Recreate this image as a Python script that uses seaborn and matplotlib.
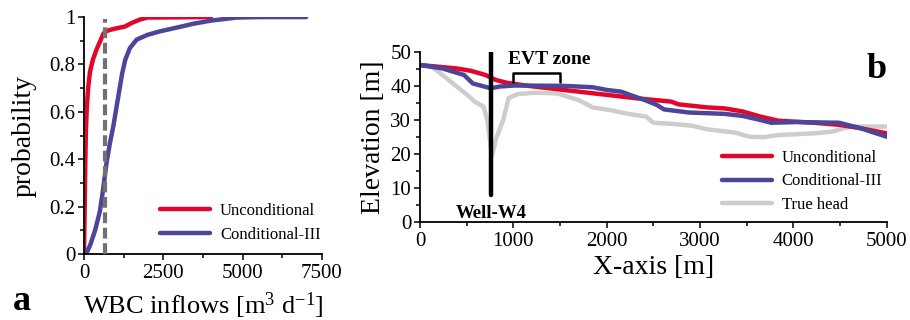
import numpy as np
import pandas as pd
import seaborn as sns
import matplotlib
matplotlib.use("Agg")
import matplotlib.pyplot as plt
from matplotlib.ticker import MultipleLocator, FixedLocator

# ---------------- data ----------------
# Panel a: cumulative probability of WBC inflows
uncond_x = [0, 20, 40, 60, 90, 130, 190, 280, 400, 500, 610, 700, 820, 1000,
            1290, 1500, 1770, 2000, 4000]
uncond_p = [0, 0.18, 0.38, 0.52, 0.62, 0.70, 0.77, 0.82, 0.865, 0.895, 0.93,
            0.94, 0.946, 0.952, 0.96, 0.975, 0.99, 0.998, 1.0]
cond_x = [0, 100, 200, 350, 500, 600, 715, 820, 925, 1000, 1100, 1200, 1300,
          1450, 1660, 2000, 2400, 3000, 3450, 4000, 4800, 5500, 7000]
cond_p = [0, 0.01, 0.04, 0.10, 0.18, 0.27, 0.39, 0.47, 0.54, 0.60, 0.68, 0.76,
          0.82, 0.87, 0.905, 0.925, 0.94, 0.958, 0.972, 0.985, 0.998, 1.0, 1.0]
obs_inflow = 660          # dashed reference line
obs_p_range = [0, 0.99]

# Panel b: heads along the X-axis
b_uncond_x = [0, 394, 547, 700, 815, 930, 1160, 1543, 1926, 2308, 2691, 2768,
              3074, 3265, 3457, 3648, 3839, 4222, 4490, 4720, 5000]
b_uncond_e = [46.1, 45.1, 44.4, 43.2, 41.7, 40.9, 40.0, 38.8, 37.6, 36.4, 35.4,
              34.6, 33.7, 33.4, 32.5, 31.0, 29.8, 29.2, 28.6, 27.6, 26.1]
b_cond_x = [0, 241, 471, 567, 662, 758, 854, 1007, 1543, 1849, 2002, 2155, 2308,
            2423, 2538, 2615, 2882, 3265, 3457, 3648, 3763, 4031, 4490, 4720, 5000]
b_cond_e = [46.1, 45.1, 43.2, 40.7, 40.0, 39.3, 39.8, 40.1, 40.0, 39.6, 38.8,
            38.3, 36.8, 35.7, 34.4, 33.1, 32.2, 31.8, 31.2, 30.0, 29.2, 29.4,
            29.2, 27.6, 25.1]
b_true_x = [0, 126, 241, 394, 509, 586, 681, 720, 750, 770, 790, 815, 892, 949,
            1045, 1236, 1466, 1696, 1849, 2040, 2232, 2423, 2500, 2691, 2921,
            3074, 3380, 3533, 3686, 3839, 4222, 4414, 4605, 5000]
b_true_e = [46.1, 45.6, 43.2, 39.8, 37.3, 35.4, 33.9, 30.0, 24.2, 19.5, 21.5,
            24.5, 30.0, 36.4, 37.6, 38.0, 37.8, 35.9, 33.7, 32.9, 31.8, 31.0,
            29.2, 28.9, 28.3, 27.3, 26.3, 25.1, 25.0, 25.6, 26.1, 26.6, 28.1, 28.1]
well_x = 760
well_e = [8, 50]
evt_zone = [1000, 1500]
evt_e = [41, 43.7]

series_labels = ["Unconditional", "Conditional-III", "True head"]
a_xticks = [0, 2500, 5000, 7500]
a_yticks = [0, 0.2, 0.4, 0.6, 0.8, 1.0]
a_yticklabels = ["0", "0.2", "0.4", "0.6", "0.8", "1"]
b_xticks = [0, 1000, 2000, 3000, 4000, 5000]
b_yticks = [0, 10, 20, 30, 40, 50]

# ---------------- style ----------------
sns.set_style("ticks")
plt.rcParams["font.family"] = ["Liberation Serif", "DejaVu Serif"]
plt.rcParams["mathtext.fontset"] = "custom"
plt.rcParams["mathtext.rm"] = "Liberation Serif"
plt.rcParams["mathtext.it"] = "Liberation Serif:italic"
plt.rcParams["mathtext.bf"] = "Liberation Serif:bold"
for k in ["text.color", "axes.labelcolor", "xtick.color", "ytick.color",
          "axes.edgecolor"]:
    plt.rcParams[k] = "black"

RED = "#E2062C"
BLUE = "#4B4699"
LGRAY = "#CDCDCD"
DGRAY = "#717171"
LW = 3.2

fig = plt.figure(figsize=(9.1, 3.2), dpi=100)
axa = fig.add_axes([0.0923, 0.206, 0.2615, 0.7406])
axb = fig.add_axes([0.4615, 0.3047, 0.5129, 0.5337])

def style_axis(ax):
    for s in ["top", "right"]:
        ax.spines[s].set_visible(False)
    for s in ["left", "bottom"]:
        ax.spines[s].set_linewidth(1.3)
        ax.spines[s].set_color("black")
    ax.tick_params(which="major", direction="out", length=4.3, width=1.1,
                   labelsize=15, colors="black")
    ax.tick_params(which="minor", direction="out", length=2.9, width=1.1,
                   colors="black")
    ax.tick_params(axis="y", which="major", pad=2)
    ax.tick_params(axis="x", which="major", pad=2.5)

# ---------------- panel a ----------------
dfa_u = pd.DataFrame({"x": uncond_x, "p": uncond_p})
dfa_c = pd.DataFrame({"x": cond_x, "p": cond_p})
sns.lineplot(data=dfa_u, x="x", y="p", ax=axa, color=RED, lw=LW, sort=False,
             estimator=None, label=series_labels[0], solid_capstyle="round")
sns.lineplot(data=dfa_c, x="x", y="p", ax=axa, color=BLUE, lw=LW, sort=False,
             estimator=None, label=series_labels[1], solid_capstyle="round")
axa.plot([obs_inflow, obs_inflow], obs_p_range, color=DGRAY, lw=3.0,
         dashes=(2.6, 1.1), zorder=5)
axa.set_xlim(0, 7500)
axa.set_ylim(0, 1)
axa.xaxis.set_major_locator(FixedLocator(a_xticks))
axa.xaxis.set_minor_locator(MultipleLocator(1250))
axa.set_yticks(a_yticks)
axa.set_yticklabels(a_yticklabels)
axa.yaxis.set_minor_locator(MultipleLocator(0.1))
style_axis(axa)
axa.set_xlabel("WBC inflows [m$^{3}$ d$^{-1}$]", fontsize=19)
axa.set_ylabel("probability", fontsize=20)
axa.xaxis.set_label_coords(0.5, -0.155)
axa.yaxis.set_label_coords(-0.20, 0.5)
axa.legend(loc="center left", bbox_to_anchor=(0.319, 0.131), frameon=False,
           fontsize=12, handlelength=3.0, handletextpad=0.6, labelspacing=0.45,
           borderpad=0, borderaxespad=0)
fig.text(0.0143, 0.031, "a", fontsize=26, fontweight="bold", ha="left",
         va="baseline")

# ---------------- panel b ----------------
dfb_t = pd.DataFrame({"x": b_true_x, "e": b_true_e})
dfb_u = pd.DataFrame({"x": b_uncond_x, "e": b_uncond_e})
dfb_c = pd.DataFrame({"x": b_cond_x, "e": b_cond_e})
sns.lineplot(data=dfb_t, x="x", y="e", ax=axb, color=LGRAY, lw=LW, sort=False,
             estimator=None, label=series_labels[2], solid_capstyle="round")
sns.lineplot(data=dfb_u, x="x", y="e", ax=axb, color=RED, lw=LW, sort=False,
             estimator=None, label=series_labels[0], solid_capstyle="round")
sns.lineplot(data=dfb_c, x="x", y="e", ax=axb, color=BLUE, lw=LW, sort=False,
             estimator=None, label=series_labels[1], solid_capstyle="round")
axb.plot([well_x, well_x], well_e, color="black", lw=3.2,
         solid_capstyle="round", zorder=6)
axb.plot([evt_zone[0], evt_zone[0], evt_zone[1], evt_zone[1]],
         [evt_e[0], evt_e[1], evt_e[1], evt_e[0]], color="black", lw=1.8,
         zorder=6)
axb.text(1390, 47.7, "EVT zone", fontsize=14,
         fontweight="bold", ha="center", va="center")
axb.text(well_x, 2.7, "Well-W4", fontsize=13.5, fontweight="bold",
         ha="center", va="center")
axb.text(1.0, 0.844, "b", transform=axb.transAxes, fontsize=26,
         fontweight="bold", ha="right", va="baseline")
axb.set_xlim(0, 5000)
axb.set_ylim(0, 50)
axb.xaxis.set_major_locator(FixedLocator(b_xticks))
axb.xaxis.set_minor_locator(MultipleLocator(500))
axb.yaxis.set_major_locator(FixedLocator(b_yticks))
axb.yaxis.set_minor_locator(MultipleLocator(5))
style_axis(axb)
axb.set_xlabel("X-axis [m]", fontsize=20)
axb.set_ylabel("Elevation [m]", fontsize=20)
axb.xaxis.set_label_coords(0.5, -0.19)
axb.yaxis.set_label_coords(-0.073, 0.5)
h, l = axb.get_legend_handles_labels()
order = [l.index(s) for s in series_labels]
axb.legend([h[i] for i in order], [l[i] for i in order], loc="center left",
           bbox_to_anchor=(0.6465, 0.241), frameon=False, fontsize=12,
           handlelength=3.0, handletextpad=0.6, labelspacing=0.45,
           borderpad=0, borderaxespad=0)

fig.savefig("out.png", dpi=100)
